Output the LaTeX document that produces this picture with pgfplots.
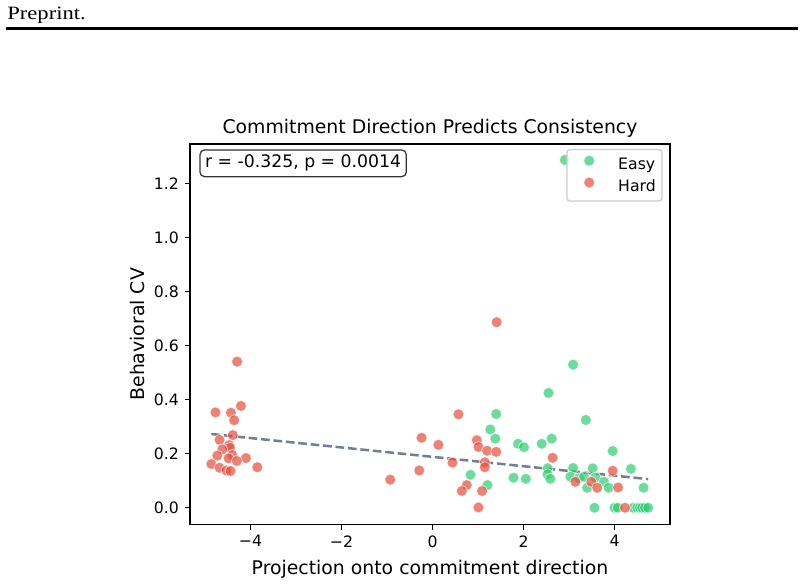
\documentclass[border=0pt]{standalone}
\usepackage{pgfplots}
\usepackage{pgfplotstable}
\pgfplotsset{compat=1.18}
\usepackage{fontspec}
\setmainfont{DejaVu Sans}
\newfontfamily\headfont[FakeStretch=1.2]{Liberation Serif}

\definecolor{easyc}{HTML}{2ECC71}
\definecolor{hardc}{HTML}{E74C3C}
\definecolor{fitc}{HTML}{708090}
\definecolor{legframe}{HTML}{CCCCCC}

% Easy items: projection vs. behavioural CV
\pgfplotstableread{
x y
2.91 1.288
3.09 0.530
2.55 0.425
3.37 0.325
1.40 0.347
1.27 0.290
1.38 0.256
1.88 0.237
2.01 0.224
2.40 0.237
2.62 0.256
3.96 0.210
0.835 0.122
1.78 0.111
1.21 0.084
2.05 0.107
2.53 0.146
2.53 0.124
2.59 0.107
3.09 0.147
3.03 0.115
3.22 0.109
3.33 0.115
3.52 0.146
3.58 0.112
3.40 0.074
3.77 0.096
3.87 0.074
4.36 0.144
4.64 0.074
3.56 0.000
4.00 0.000
4.07 0.000
4.41 0.000
4.50 0.000
4.56 0.000
4.61 0.000
4.67 0.000
4.74 0.000
}\easydata

% Hard items
\pgfplotstableread{
x y
-4.295 0.541
-4.21 0.377
-4.77 0.353
-4.43 0.352
-4.36 0.324
-4.39 0.269
-4.68 0.251
-4.47 0.232
-4.45 0.222
-4.62 0.216
-4.73 0.193
-4.40 0.195
-4.48 0.183
-4.10 0.184
-4.30 0.173
-4.86 0.162
-4.68 0.148
-4.53 0.138
-4.44 0.136
-3.85 0.150
1.41 0.687
0.571 0.346
-0.24 0.259
0.13 0.233
0.974 0.250
1.01 0.225
1.20 0.211
1.40 0.207
0.44 0.167
1.15 0.168
1.15 0.150
-0.29 0.138
-0.93 0.104
0.754 0.084
0.644 0.062
1.09 0.062
1.01 0.001
2.64 0.185
3.14 0.096
3.49 0.096
3.62 0.074
3.96 0.137
4.08 0.075
4.23 0.000
}\harddata

\begin{document}
\begin{tikzpicture}
\path (0,0) rectangle (512.15pt,372pt);
\node[anchor=base west, inner sep=0pt, font=\headfont\fontsize{12}{14}\selectfont] at (4.46pt,359.7pt) {Preprint.};
\draw[line width=1.72pt] (3.82pt,353.7pt) -- (508.1pt,353.7pt);
\begin{axis}[
  at={(121.03pt,37.90pt)}, anchor=south west,
  scale only axis, width=305.76pt, height=242.38pt,
  xmin=-5.33, xmax=5.22, ymin=-0.062, ymax=1.347,
  axis line style={line width=0.8pt},
  tick style={line width=0.8pt, black},
  tick align=outside, major tick length=3.5pt,
  xtick={-4,-2,0,2,4}, xticklabels={−4,−2,0,2,4},
  ytick={0,0.2,0.4,0.6,0.8,1.0,1.2},
  yticklabels={0.0,0.2,0.4,0.6,0.8,1.0,1.2},
  xtick pos=bottom, ytick pos=left,
  ticklabel style={font=\fontsize{10}{12}\selectfont},
  title={Commitment Direction Predicts Consistency},
  title style={at={(axis description cs:0.5,1.0025)}, anchor=base, inner sep=0pt, font=\fontsize{12}{14}\selectfont},
  xlabel={Projection onto commitment direction},
  xlabel style={at={(axis description cs:0.5,-0.1325)}, anchor=base, inner sep=0pt, font=\fontsize{12}{14}\selectfont},
  ylabel={Behavioral CV},
  ylabel style={at={(axis description cs:-0.0948,0.5)}, anchor=base, inner sep=0pt, font=\fontsize{12}{14}\selectfont},
  legend style={at={(axis description cs:0.9848,0.987)}, anchor=north east,
    draw=legframe, line width=0.8pt, rounded corners=2pt,
    fill=white, fill opacity=0.8, text opacity=1,
    inner xsep=4pt, inner ysep=3.6pt, row sep=2.2pt,
    font=\fontsize{10}{12}\selectfont,
    nodes={inner sep=0pt, text height=7.3pt, text depth=2.3pt},
    cells={anchor=west}},
  legend image code/.code={\path (0pt,0pt) (27.9pt,0pt); \draw[#1] plot coordinates {(9.8pt,3.4pt)};},
]
\addplot[only marks, mark=*, mark size=3.5pt,
  mark options={fill=easyc, draw=white, line width=0.5pt, opacity=0.7}]
  table[x=x, y=y] {\easydata};
\addlegendentry{Easy}
\addplot[only marks, mark=*, mark size=3.5pt,
  mark options={fill=hardc, draw=white, line width=0.5pt, opacity=0.7}]
  table[x=x, y=y] {\harddata};
\addlegendentry{Hard}
% least-squares fit across all items
\addplot[forget plot, fitc, line width=1.6pt, dash pattern=on 5.55pt off 2.4pt]
  coordinates {(-4.86,0.273) (4.74,0.106)};
\node[draw=black!80, fill=white, rounded corners=3pt, inner sep=3.3pt, line width=0.8pt,
  anchor=north west, font=\fontsize{11}{13}\selectfont]
  at (axis description cs:0.0194,0.986) {r = -0.325, p = 0.0014};
\end{axis}
\end{tikzpicture}
\end{document}
